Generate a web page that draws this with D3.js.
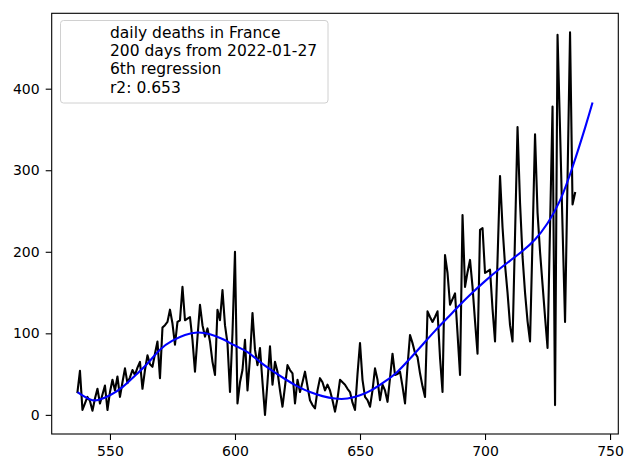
<!DOCTYPE html>
<html>
<head>
<meta charset="utf-8">
<script src="https://cdn.jsdelivr.net/npm/d3@7"></script>
<style>
  html, body { margin: 0; padding: 0; background: #fff; }
  svg { display: block; }
  text { font-family: "DejaVu Sans", sans-serif; }
</style>
</head>
<body>
<svg id="chart" width="625" height="460"></svg>
<script>
// ---- data ----
const startDay = 537;
const deaths = [
  28, 54, 6, 14, 22, 17, 5, 20, 32, 14,
  25, 36, 6, 28, 43, 30, 47, 22, 40, 57,
  39, 46, 55, 49, 58, 65, 32, 55, 73, 62,
  59, 75, 90, 45, 107, 110, 114, 129, 112, 86,
  114, 116, 157, 116, 118, 120, 92, 53, 95, 135,
  110, 96, 106, 90, 65, 49, 129, 116, 153, 110,
  88, 28, 100, 200, 14, 40, 55, 92, 30, 70,
  125, 80, 61, 82, 40, 0, 40, 84, 37, 65,
  53, 30, 10, 35, 61, 55, 51, 14, 43, 28,
  40, 53, 35, 18, 12, 8, 30, 45, 40, 30,
  37, 30, 18, 4, 20, 43, 40, 37, 32, 28,
  15, 6, 50, 88, 43, 22, 18, 10, 30, 57,
  43, 18, 37, 30, 16, 45, 75, 49, 50, 53,
  35, 14, 60, 98, 88, 76, 71, 51, 35, 22,
  127, 120, 114, 120, 127, 70, 28, 196, 174, 135,
  142, 149, 100, 49, 245, 157, 175, 190, 157, 115,
  75, 227, 229, 174, 176, 178, 130, 90, 190, 293,
  230, 184, 150, 110, 90, 220, 353, 260, 194, 150,
  115, 90, 215, 344, 248, 200, 160, 120, 82, 230,
  378, 12, 466, 350, 230, 114, 290, 469, 258, 272
];
const fitDays = [537, 540, 543, 546, 550, 555, 560, 565, 570, 575, 580, 585, 590, 595, 600, 605, 610, 615, 620, 625, 630, 635, 640, 645, 650, 655, 660, 665, 670, 675, 680, 685, 690, 695, 700, 705, 710, 715, 720, 725, 730, 735, 740, 743];
const fitValues = [28, 22, 18, 19, 24, 34, 48, 63, 80, 91, 98, 101, 99, 93, 85, 77, 65, 54, 44, 35, 28, 23, 20, 20, 24, 31, 41, 53, 69, 86, 103, 119, 135, 150, 164, 177, 189, 201, 215, 235, 263, 304, 352, 383];
const xTicks = [550, 600, 650, 700, 750];
const yTicks = [0, 100, 200, 300, 400];
const legendLines = ["daily deaths in France", "200 days from 2022-01-27", "6th regression", "r2: 0.653"];

// ---- build ----
const black = deaths.map((v, i) => ({ x: startDay + i, y: v }));
const fit = fitDays.map((d, i) => ({ x: d, y: fitValues[i] }));

const L = 51.7, R = 618.3, T = 13.3, B = 434;
const svg = d3.select("#chart");
svg.append("rect").attr("width", 625).attr("height", 460).attr("fill", "#fff");

const allX = black.map(d => d.x).concat(fit.map(d => d.x));
const allY = black.map(d => d.y).concat(fit.map(d => d.y));
const [x0, x1] = d3.extent(allX), [y0, y1] = d3.extent(allY);
const mx = (x1 - x0) * 0.05, my = (y1 - y0) * 0.05;
const x = d3.scaleLinear().domain([x0 - mx, x1 + mx]).range([L, R]);
const y = d3.scaleLinear().domain([y0 - my, y1 + my]).range([B, T]);

const line = d3.line().x(d => x(d.x)).y(d => y(d.y));
svg.append("path").datum(black)
  .attr("d", line)
  .attr("fill", "none").attr("stroke", "#000").attr("stroke-width", 2.1)
  .attr("stroke-linejoin", "round").attr("stroke-linecap", "square");
svg.append("path").datum(fit)
  .attr("d", line.curve(d3.curveNatural))
  .attr("fill", "none").attr("stroke", "#0000ff").attr("stroke-width", 2.1);

const xAxis = d3.axisBottom(x).tickValues(xTicks).tickSize(6).tickPadding(6).tickSizeOuter(0);
const yAxis = d3.axisLeft(y).tickValues(yTicks).tickSize(6).tickPadding(6).tickSizeOuter(0);
const gx = svg.append("g").attr("transform", `translate(0,${B})`).call(xAxis);
const gy = svg.append("g").attr("transform", `translate(${L},0)`).call(yAxis);
[gx, gy].forEach(g => {
  g.select(".domain").remove();
  g.selectAll(".tick line").attr("stroke", "#000").attr("stroke-width", 1.1);
  g.selectAll(".tick text").attr("fill", "#000").style("font-size", "14px")
    .style("font-family", "'DejaVu Sans', sans-serif");
});

svg.append("rect").attr("x", L).attr("y", T).attr("width", R - L).attr("height", B - T)
  .attr("fill", "none").attr("stroke", "#000").attr("stroke-width", 1.1);

// legend
const lg = svg.append("g");
lg.append("rect").attr("x", 60.5).attr("y", 20.5).attr("width", 267.5).attr("height", 82.5)
  .attr("rx", 3).attr("fill", "#fff").attr("fill-opacity", 0.8)
  .attr("stroke", "#d0d0d0").attr("stroke-width", 1);
lg.selectAll("text").data(legendLines).join("text")
  .attr("x", 110).attr("y", (d, i) => 37.8 + i * 18.3)
  .attr("fill", "#000").style("font-size", "15.5px")
  .text(d => d);
</script>
</body>
</html>
